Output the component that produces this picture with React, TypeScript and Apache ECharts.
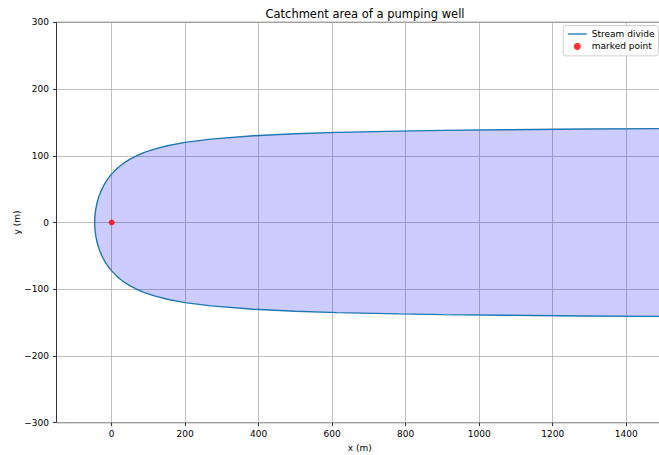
import React, { useEffect, useRef } from "react";
import * as echarts from "echarts";

// Stream divide (upper branch, y >= 0)
const upperY = [0, 5, 10, 20, 30, 40, 45, 50, 55, 60, 65, 70, 72.5, 80, 85, 90, 95, 100, 105, 110, 115, 120, 125, 130, 133, 135, 137, 138, 139, 140, 141];
const upperX = [-46.2, -46.0, -45.4, -43.2, -39.5, -34.0, -30.5, -26.5, -21.9, -16.7, -10.7, -3.8, 0, 13.1, 23.6, 35.8, 50.3, 67.9, 89.2, 116.4, 151.3, 199.3, 270.2, 386.0, 500.0, 613.4, 782.4, 902.5, 1063.5, 1287.9, 1622.6];
// lower branch, y <= 0
const lowerY = [0, -5, -10, -20, -30, -40, -45, -50, -55, -60, -65, -70, -72.5, -80, -85, -90, -95, -100, -105, -110, -115, -120, -125, -130, -133, -135, -137, -138, -139, -140, -141];
const lowerX = [-46.2, -46.0, -45.4, -43.2, -39.5, -34.0, -30.5, -26.5, -21.9, -16.7, -10.7, -3.8, 0, 13.1, 23.6, 35.8, 50.3, 67.9, 89.2, 116.4, 151.3, 199.3, 270.2, 386.0, 500.0, 613.4, 782.4, 902.5, 1063.5, 1287.9, 1622.6];

const markedX = [0];
const markedY = [0];

const xTicks = [0, 200, 400, 600, 800, 1000, 1200, 1400];

const FONT = "DejaVu Sans";

export default function App() {
  const ref = useRef<HTMLDivElement>(null);
  useEffect(() => {
    if (!ref.current) return;
    const chart = echarts.init(ref.current, undefined, { renderer: "svg" });

    const lowerPts = lowerX.map((x, i) => [x, lowerY[i]]);
    const upperPts = upperX.map((x, i) => [x, upperY[i]]);
    const outline = [...lowerPts.slice().reverse(), ...upperPts.slice(1)];

    const fmt = (v: number) => String(v).replace("-", "\u2212");

    chart.setOption({
      animation: false,
      title: {
        text: "Catchment area of a pumping well",
        left: 360,
        textAlign: "center",
        top: 3,
        textStyle: { fontFamily: FONT, fontSize: 11.5, fontWeight: "normal", color: "#000" },
      },
      legend: {
        orient: "vertical",
        right: 0.5,
        top: 25.5,
        padding: [3, 4, 4, 4.5],
        itemGap: 1.4,
        itemWidth: 19,
        itemHeight: 7,
        borderColor: "#d0d0d0",
        borderWidth: 1,
        borderRadius: 3,
        backgroundColor: "rgba(255,255,255,0.8)",
        textStyle: { fontFamily: FONT, fontSize: 9, lineHeight: 11, color: "#000" },
        data: [
          { name: "Stream divide", icon: "path://M0,0H20V1.4H0Z" },
          { name: "marked point", icon: "circle" },
        ],
      },
      grid: {
        left: 56.5,
        right: -4,
        top: 22.3,
        bottom: 32.3,
        outerBoundsMode: "none",
        containLabel: false,
        show: true,
        borderColor: "#000",
        borderWidth: 0.8,
        backgroundColor: "transparent",
      },
      xAxis: {
        type: "value",
        min: -150,
        max: 1500,
        name: "x (m)",
        nameLocation: "middle",
        nameGap: 19.5,
        nameTextStyle: { fontFamily: FONT, fontSize: 9, color: "#000" },
        axisLine: { show: false, onZero: false },
        axisTick: { show: true, length: 3.5, customValues: xTicks, lineStyle: { color: "#000", width: 0.8 } },
        axisLabel: { customValues: xTicks, fontFamily: FONT, fontSize: 9, color: "#000", margin: 6.5, formatter: fmt },
        splitLine: { show: true, lineStyle: { color: "#b0b0b0", width: 0.8 } },
      },
      yAxis: {
        type: "value",
        min: -300,
        max: 300,
        interval: 100,
        name: "y (m)",
        nameLocation: "middle",
        nameGap: 35,
        nameMoveOverlap: false,
        nameTextStyle: { fontFamily: FONT, fontSize: 9, color: "#000" },
        axisLine: { show: false, onZero: false },
        axisTick: { show: true, length: 3.5, lineStyle: { color: "#000", width: 0.8 } },
        axisLabel: { fontFamily: FONT, fontSize: 9, color: "#000", margin: 7.5, formatter: fmt },
        splitLine: { show: true, lineStyle: { color: "#b0b0b0", width: 0.8 } },
      },
      series: [
        {
          type: "custom",
          silent: true,
          clip: true,
          z: 1,
          data: [0],
          renderItem: (params: any, api: any) => ({
            type: "polygon",
            shape: { points: outline.map((p) => api.coord(p)) },
            style: { fill: "rgba(0,0,255,0.2)", stroke: "none" },
          }),
        },
        {
          name: "Stream divide",
          type: "line",
          data: outline,
          showSymbol: false,
          symbol: "none",
          z: 3,
          lineStyle: { color: "#1f77b4", width: 1.4 },
          itemStyle: { color: "#1f77b4" },
        },
        {
          name: "marked point",
          type: "scatter",
          data: markedX.map((x, i) => [x, markedY[i]]),
          symbol: "circle",
          symbolSize: 6,
          z: 4,
          itemStyle: { color: "#ff0000" },
        },
      ],
    });
    return () => chart.dispose();
  }, []);
  return <div ref={ref} style={{ position: "absolute", left: 0, top: 0, width: 659, height: 455 }} />;
}
